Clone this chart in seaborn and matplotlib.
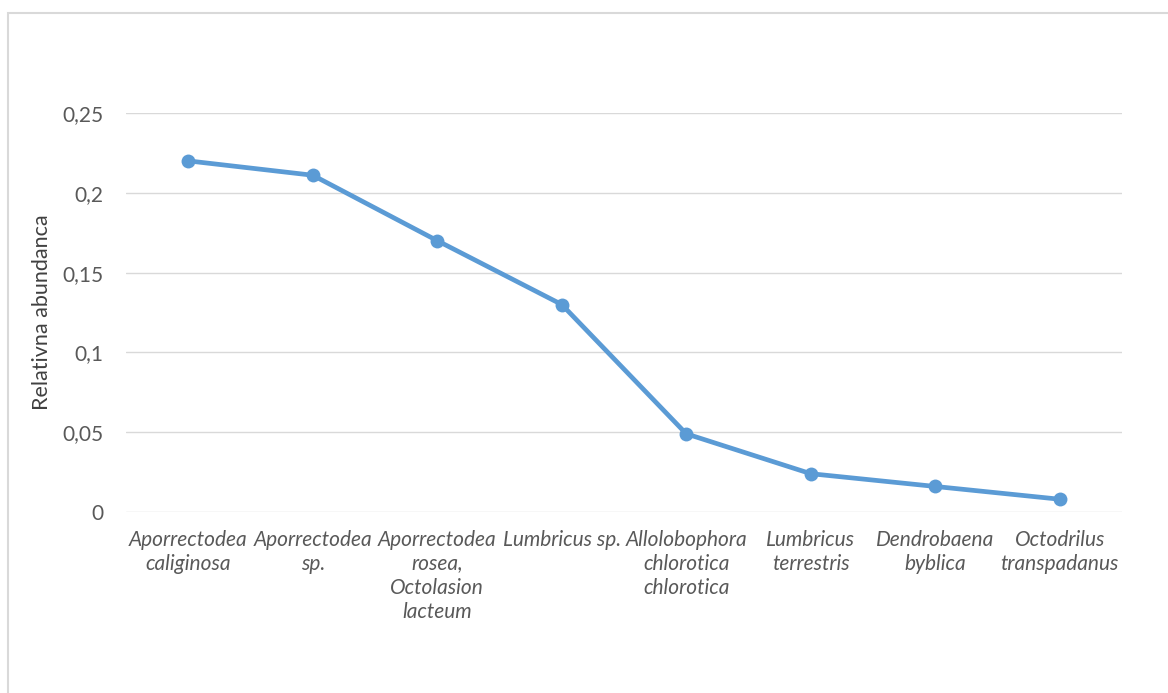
import matplotlib
matplotlib.use('Agg')
import matplotlib.pyplot as plt
import seaborn as sns
import pandas as pd
from matplotlib.patches import Rectangle

species = [
    "Aporrectodea\ncaliginosa",
    "Aporrectodea\nsp.",
    "Aporrectodea\nrosea,\nOctolasion\nlacteum",
    "Lumbricus sp.",
    "Allolobophora\nchlorotica\nchlorotica",
    "Lumbricus\nterrestris",
    "Dendrobaena\nbyblica",
    "Octodrilus\ntranspadanus",
]
abundance = [0.220, 0.211, 0.170, 0.130, 0.049, 0.024, 0.016, 0.008]
y_ticks = [0, 0.05, 0.1, 0.15, 0.2, 0.25]
y_tick_labels = ["0", "0,05", "0,1", "0,15", "0,2", "0,25"]

df = pd.DataFrame({"species": species, "abundance": abundance})

sns.set_style("white")
plt.rcParams['font.family'] = ['Lato', 'DejaVu Sans']

fig = plt.figure(figsize=(11.68, 6.93), dpi=100)
ax = fig.add_axes([126 / 1168, 1 - 512 / 693, 996 / 1168, 399 / 693])

# chart frame like the Excel export
fig.patches.append(Rectangle((8 / 1168, -0.1), 1.2, 1 - 13 / 693 + 0.1,
                             transform=fig.transFigure, fill=False,
                             edgecolor="#d9d9d9", linewidth=1.5))

sns.lineplot(data=df, x="species", y="abundance", sort=False, ax=ax,
             color="#5b9bd5", linewidth=3.4, marker="o", markersize=10,
             markeredgewidth=0, clip_on=False)

ax.set_xlim(-0.5, len(species) - 0.5)
ax.set_ylim(0, 0.25)
ax.set_yticks(y_ticks)
ax.set_yticklabels(y_tick_labels)
ax.yaxis.grid(True, color="#d9d9d9", linewidth=1)
ax.set_axisbelow(True)
for s in ax.spines.values():
    s.set_visible(False)

ax.tick_params(axis="y", length=0, pad=16, labelsize=15, labelcolor="#595959")
ax.tick_params(axis="x", length=0, pad=13, labelsize=15, labelcolor="#595959")
for lbl in ax.get_xticklabels():
    lbl.set_fontstyle("italic")
    lbl.set_linespacing(1.25)
    lbl.set_verticalalignment("top")

ax.set_xlabel("")
ax.set_ylabel("Relativna abundanca", fontsize=15.5, color="#404040", labelpad=8)

fig.savefig("out.png", dpi=100, facecolor="white")
